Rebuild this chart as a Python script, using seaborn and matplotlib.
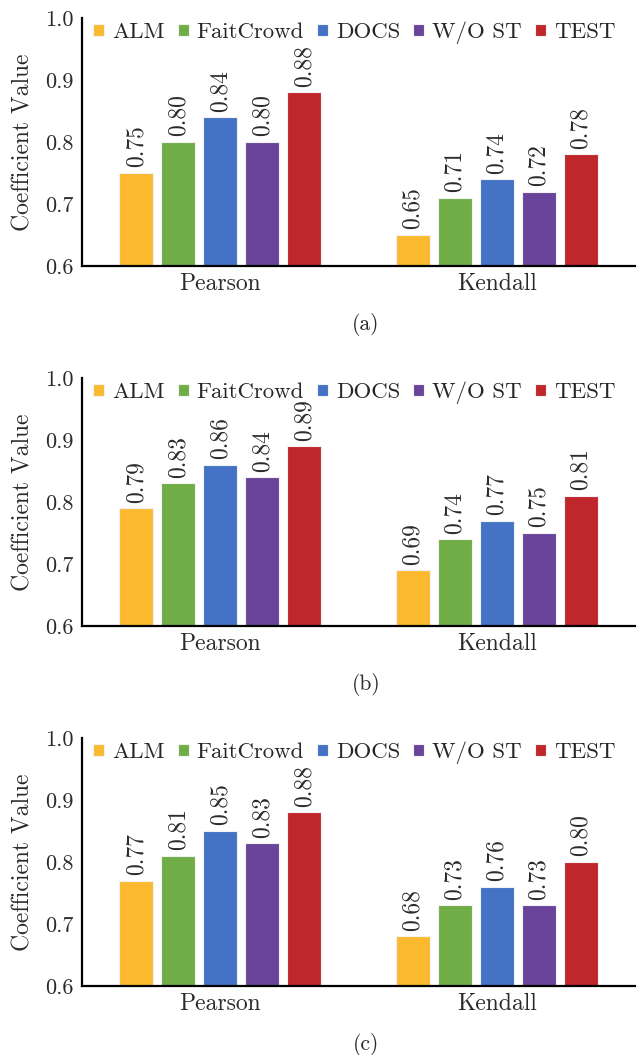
import pandas as pd
import numpy as np
import matplotlib
matplotlib.use("Agg")
import matplotlib.pyplot as plt
import seaborn as sns

# -------------------------------
# DATA
# -------------------------------
methods = ['ALM', 'FaitCrowd', 'DOCS', 'W/O ST', 'TEST']
metrics = ['Pearson', 'Kendall']
colors = ['#FBB930', '#70AD47', '#4472C4', '#6A449B', '#C0272D']

pearson_a = [0.75, 0.80, 0.84, 0.80, 0.88]
kendall_a = [0.65, 0.71, 0.74, 0.72, 0.78]
pearson_b = [0.79, 0.83, 0.86, 0.84, 0.89]
kendall_b = [0.69, 0.74, 0.77, 0.75, 0.81]
pearson_c = [0.77, 0.81, 0.85, 0.83, 0.88]
kendall_c = [0.68, 0.73, 0.76, 0.73, 0.80]

panels = [('(a)', pearson_a, kendall_a),
          ('(b)', pearson_b, kendall_b),
          ('(c)', pearson_c, kendall_c)]

# -------------------------------
# STYLE
# -------------------------------
sns.set_style('white')
plt.rcParams['font.family'] = ['cmr10', 'DejaVu Serif']
plt.rcParams['axes.formatter.use_mathtext'] = True
plt.rcParams['mathtext.fontset'] = 'cm'

fig = plt.figure(figsize=(6.43, 10.55), dpi=100)
W, H = 643.0, 1055.0
tops = [18, 378, 738]
ax_h = 248
txt = '#2a2a2a'

for (cap, pear, kend), top in zip(panels, tops):
    ax = fig.add_axes([82 / W, 1 - (top + ax_h) / H, 553 / W, ax_h / H])
    df = pd.DataFrame({
        'Metric': np.repeat(metrics, len(methods)),
        'Method': methods * 2,
        'Value': pear + kend,
    })
    sns.barplot(data=df, x='Metric', y='Value', hue='Method', order=metrics,
                hue_order=methods, palette=colors, saturation=1, width=0.76,
                gap=0.2, edgecolor='#f2f2f2', linewidth=0.8, ax=ax)
    for cont in ax.containers:
        ax.bar_label(cont, fmt='%.2f', rotation=90, padding=4, fontsize=17,
                     color=txt)
    ax.set_ylim(0.6, 1.0)
    ax.set_yticks([0.6, 0.7, 0.8, 0.9, 1.0])
    ax.set_yticklabels(['0.6', '0.7', '0.8', '0.9', '1.0'])
    ax.set_xlim(-0.5, 1.5)
    ax.set_xlabel('')
    ax.set_ylabel('')
    ax.tick_params(axis='y', length=0, labelsize=16, colors=txt, pad=6)
    ax.tick_params(axis='x', length=0, labelsize=17, colors=txt, pad=5)
    for s in ['top', 'right']:
        ax.spines[s].set_visible(False)
    for s in ['left', 'bottom']:
        ax.spines[s].set_color('black')
        ax.spines[s].set_linewidth(1.6)
    ax.legend(ncol=5, loc='center left', bbox_to_anchor=(0.02, 0.94),
              frameon=False, fontsize=16.5, handlelength=0.48,
              handleheight=0.48, handletextpad=0.35, columnspacing=0.57,
              borderaxespad=0, borderpad=0)
    fig.text(23 / W, 1 - (top + ax_h / 2) / H, 'Coefficient Value',
             rotation=90, ha='center', va='center', fontsize=17, color=txt)
    fig.text(366 / W, 1 - (top + 306) / H, cap, ha='center', va='center',
             fontsize=15.5, color=txt)

fig.savefig('out.png', dpi=100)
